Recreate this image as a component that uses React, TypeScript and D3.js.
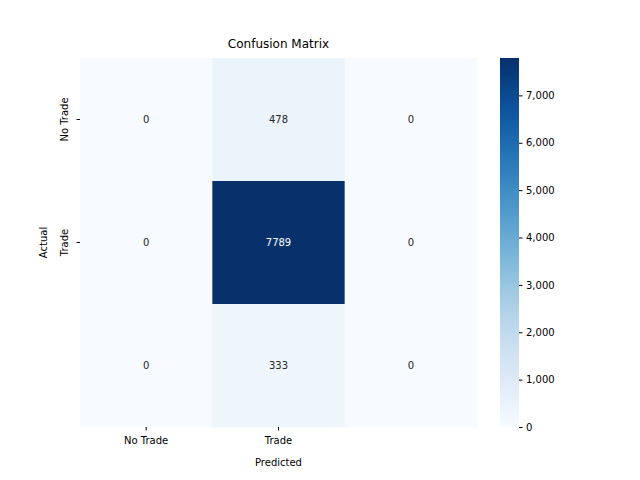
import { useEffect, useRef } from 'react';
import * as d3 from 'd3';

const rowLabels = ['No Trade', 'Trade', ''];
const colLabels = ['No Trade', 'Trade', ''];
const matrix = [
  [0, 478, 0],
  [0, 7789, 0],
  [0, 333, 0],
];
const cbTicks = [0, 1000, 2000, 3000, 4000, 5000, 6000, 7000];

export default function App() {
  const svgRef = useRef<SVGSVGElement>(null);

  useEffect(() => {
    const svg = d3.select(svgRef.current);
    svg.selectAll('*').remove();
    const font = 'DejaVu Sans, sans-serif';
    const left = 80, right = 477, top = 58, bottom = 427;

    const x = d3.scaleBand<number>().domain([0, 1, 2]).range([left, right]);
    const y = d3.scaleBand<number>().domain([0, 1, 2]).range([top, bottom]);
    const vmax = d3.max(matrix.flat()) as number;
    const color = d3.scaleSequential(d3.interpolateBlues).domain([0, vmax]);

    const cells = matrix.flatMap((row, i) => row.map((v, j) => ({ i, j, v })));
    svg.selectAll('rect.cell').data(cells).enter().append('rect')
      .attr('x', d => x(d.j)!).attr('y', d => y(d.i)!)
      .attr('width', x.bandwidth() + 0.5).attr('height', y.bandwidth() + 0.5)
      .attr('fill', d => color(d.v));
    svg.selectAll('text.val').data(cells).enter().append('text')
      .attr('x', d => x(d.j)! + x.bandwidth() / 2)
      .attr('y', d => y(d.i)! + y.bandwidth() / 2)
      .attr('dy', '0.35em').attr('text-anchor', 'middle')
      .style('font-family', font).style('font-size', '10px')
      .attr('fill', d => (d.v / vmax > 0.6 ? '#ffffff' : '#262626'))
      .text(d => d.v);

    // x ticks
    colLabels.forEach((l, j) => {
      if (!l) return;
      const cx = x(j)! + x.bandwidth() / 2;
      svg.append('line').attr('x1', cx).attr('x2', cx).attr('y1', bottom).attr('y2', bottom + 3.5).attr('stroke', '#000');
      svg.append('text').attr('x', cx).attr('y', bottom + 17).attr('text-anchor', 'middle')
        .style('font-family', font).style('font-size', '10px').text(l);
    });
    rowLabels.forEach((l, i) => {
      if (!l) return;
      const cy = y(i)! + y.bandwidth() / 2;
      svg.append('line').attr('x1', left - 3.5).attr('x2', left).attr('y1', cy).attr('y2', cy).attr('stroke', '#000');
      svg.append('text').attr('transform', `translate(${left - 12},${cy}) rotate(-90)`)
        .attr('text-anchor', 'middle').style('font-family', font).style('font-size', '10px').text(l);
    });

    svg.append('text').attr('x', (left + right) / 2).attr('y', 48).attr('text-anchor', 'middle')
      .style('font-family', font).style('font-size', '12px').text('Confusion Matrix');
    svg.append('text').attr('x', (left + right) / 2).attr('y', 466).attr('text-anchor', 'middle')
      .style('font-family', font).style('font-size', '10px').text('Predicted');
    svg.append('text').attr('transform', `translate(47,${(top + bottom) / 2}) rotate(-90)`)
      .attr('text-anchor', 'middle').style('font-family', font).style('font-size', '10px').text('Actual');

    // colorbar
    const cbX = 500, cbW = 19;
    const cy = d3.scaleLinear().domain([0, vmax]).range([bottom, top]);
    const defs = svg.append('defs');
    const grad = defs.append('linearGradient').attr('id', 'cb').attr('x1', 0).attr('y1', 1).attr('x2', 0).attr('y2', 0);
    d3.range(0, 1.001, 0.05).forEach(t => {
      grad.append('stop').attr('offset', t).attr('stop-color', d3.interpolateBlues(t));
    });
    svg.append('rect').attr('x', cbX).attr('y', top).attr('width', cbW).attr('height', bottom - top).attr('fill', 'url(#cb)');
    const axis = d3.axisRight(cy).tickValues(cbTicks).tickSize(3.5).tickPadding(3.5);
    const g = svg.append('g').attr('transform', `translate(${cbX + cbW},0)`).call(axis);
    g.select('.domain').remove();
    g.selectAll('text').style('font-family', font).style('font-size', '10px').attr('fill', '#000');
  }, []);

  return <svg ref={svgRef} width={640} height={480} style={{ display: 'block', margin: -8 }} />;
}
